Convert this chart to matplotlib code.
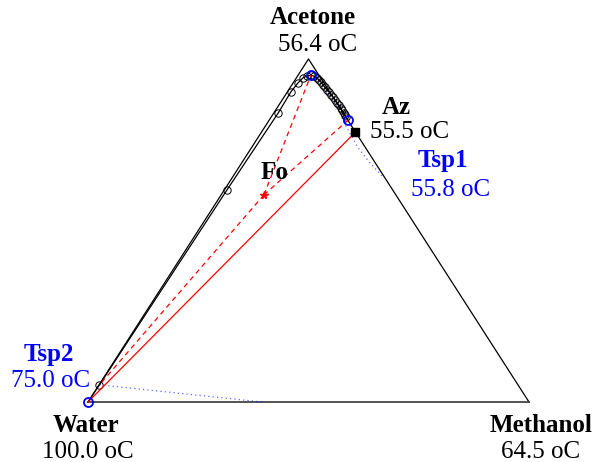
import numpy as np
import matplotlib
matplotlib.use("Agg")
import matplotlib.pyplot as plt

plt.rcParams['font.family'] = ['Liberation Serif', 'DejaVu Serif']

# -------------------------------
# Datos (fracciones molares: acetona, metanol)
# -------------------------------
components = ["Water", "Methanol", "Acetone"]
boiling = ["100.0 oC", "64.5 oC", "56.4 oC"]

# perfil de la columna (desde el fondo hasta el tope)
prof_A = [0.000, 0.050, 0.618, 0.843, 0.904, 0.930, 0.945, 0.950, 0.953,
          0.950, 0.945, 0.939, 0.933, 0.924, 0.918, 0.910, 0.904, 0.895,
          0.889, 0.881, 0.872, 0.866, 0.857, 0.851, 0.843, 0.837, 0.831, 0.822]
prof_M = [0.000, 0.001, 0.006, 0.010, 0.008, 0.011, 0.015, 0.021, 0.029,
          0.037, 0.047, 0.054, 0.062, 0.071, 0.078, 0.087, 0.095, 0.104,
          0.111, 0.120, 0.129, 0.136, 0.145, 0.150, 0.159, 0.164, 0.170, 0.179]

az_A, az_M = 0.787, 0.213
fo_A, fo_M = 0.604, 0.097
tsp1_A, tsp1_M = 0.822, 0.179
tsp2_A, tsp2_M = 0.000, 0.000
top_A, top_M = 0.953, 0.029
bot_A, bot_M = 0.050, 0.001

# fronteras (punteadas)
bnd1_A, bnd1_M = [0.050, 0.000], [0.001, 0.395]
bnd2_A = [0.918, 0.866, 0.808, 0.741, 0.697, 0.656]
bnd2_M = [0.078, 0.130, 0.179, 0.242, 0.291, 0.341]


def tern(A, M):
    A = np.asarray(A, dtype=float)
    M = np.asarray(M, dtype=float)
    return M + A / 2, A


W, H = 593, 462
fig = plt.figure(figsize=(W / 100, H / 100), dpi=100)
ax = fig.add_axes([88 / W, (H - 402) / H, 441 / W, 343 / H])
ax.set_xlim(0, 1)
ax.set_ylim(0, 1)
ax.axis("off")

# Triangulo
ax.plot([0, 0.5, 1], [0, 1, 0], color="black", lw=0.9, clip_on=False)
ax.plot([0, 1], [0, 0], color="#444444", lw=1.3, clip_on=False)

# fronteras
for bA, bM in [(bnd1_A, bnd1_M), (bnd2_A, bnd2_M)]:
    xb, yb = tern(bA, bM)
    ax.plot(xb, yb, color="blue", lw=0.9, ls=(0, (1, 2.5)), alpha=0.6,
            clip_on=False)

# perfil
x, y = tern(prof_A, prof_M)
ax.plot(x, y, color="black", lw=0.9, clip_on=False)
ax.plot(x[1:-1], y[1:-1], 'o', mfc="none", mec="black", ms=5.3, mew=0.7,
        clip_on=False)

# balances de materia
xf, yf = tern(fo_A, fo_M)
for a, m in [(bot_A, bot_M), (top_A, top_M), (tsp1_A, tsp1_M)]:
    xe, ye = tern(a, m)
    ax.plot([xf, xe], [yf, ye], color="red", lw=0.9, dashes=(4, 3.2),
            clip_on=False)

xa, ya = tern(az_A, az_M)
x0, y0 = tern(tsp2_A, tsp2_M)
ax.plot([x0, xa], [y0, ya], color="red", lw=0.9, clip_on=False)

# puntos
for a, m in [(tsp2_A, tsp2_M), (top_A, top_M), (tsp1_A, tsp1_M)]:
    xp, yp = tern(a, m)
    ax.plot(xp, yp, 'o', mfc="none", mec="blue", ms=6.5, mew=1.3, clip_on=False)

ax.plot(xa, ya, 's', color="black", ms=6, clip_on=False)
ax.plot(xf, yf, '*', color="red", ms=5.5, clip_on=False)


def label(px, py, s, color="black", bold=False):
    fig.text(px / W, 1 - py / H, s, color=color, fontsize=18,
             fontweight="bold" if bold else "normal",
             ha="center", va="center")


label(313, 18, "Acetone", bold=True)
label(318, 45, boiling[2])
label(86, 425, "Water", bold=True)
label(88, 452, boiling[0])
label(541, 425, "Methanol", bold=True)
label(541, 452, boiling[1])
label(396, 107, "Az", bold=True)
label(410, 132, "55.5 oC")
label(274, 173, "Fo", bold=True)
label(443, 161, "Tsp1", color="blue", bold=True)
label(451, 190, "55.8 oC", color="blue")
label(49, 355, "Tsp2", color="blue", bold=True)
label(51, 381, "75.0 oC", color="blue")

fig.savefig("out.png", dpi=100)
